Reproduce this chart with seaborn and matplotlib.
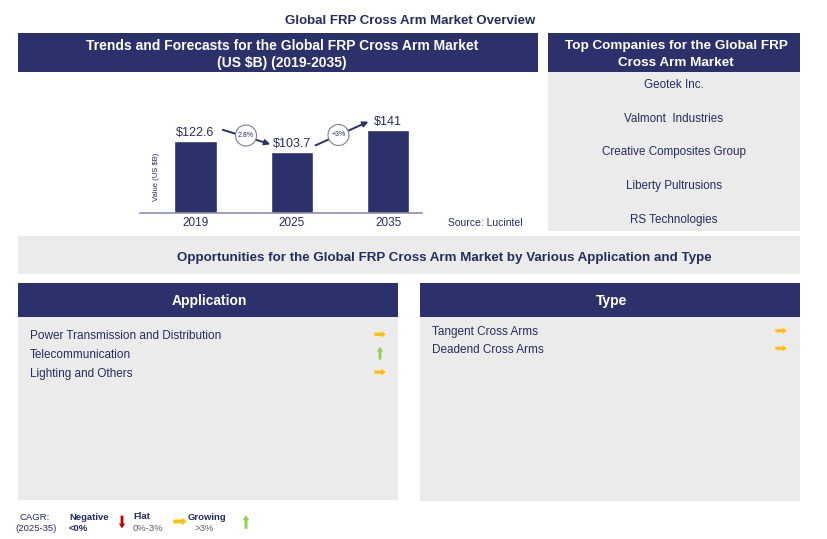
import matplotlib
matplotlib.use("Agg")
import matplotlib.pyplot as plt
import seaborn as sns
import pandas as pd
from matplotlib.patches import Rectangle, Circle, FancyArrow

# data
years = ["2019", "2025", "2035"]
values = [122.6, 103.7, 141]
value_labels = ["$122.6", "$103.7", "$141"]
cagr_labels = ["2.8%", "+3%"]
companies = ["Geotek Inc.", "Valmont  Industries", "Creative Composites Group",
             "Liberty Pultrusions", "RS Technologies"]
applications = ["Power Transmission and Distribution", "Telecommunication", "Lighting and Others"]
application_trend = ["flat", "growing", "flat"]
types = ["Tangent Cross Arms", "Deadend Cross Arms"]
type_trend = ["flat", "flat"]

NAVY = "#2D316B"
TXT = "#262C60"
GREY = "#EBEBEB"
YELLOW = "#FFC000"
GREEN = "#92D050"
RED = "#C00000"

sns.set_style("white")
plt.rcParams['font.family'] = ['Liberation Sans', 'DejaVu Sans']

W, H = 828, 539
DY = 1.5  # small nudge so text centres sit like the reference
fig = plt.figure(figsize=(W / 100, H / 100), dpi=100)

# overlay axes in pixel coordinates
bg = fig.add_axes([0, 0, 1, 1])
bg.set_xlim(0, W)
bg.set_ylim(H, 0)
bg.axis("off")


def box(x0, y0, x1, y1, color):
    bg.add_patch(Rectangle((x0, y0), x1 - x0, y1 - y0, facecolor=color, edgecolor="none", zorder=0))


def label(x, y, s, **kw):
    kw.setdefault("va", "center")
    kw.setdefault("color", TXT)
    return bg.text(x, y + DY, s, **kw)


def arrow(x, y, kind, size=1.0):
    if kind == "flat":
        bg.add_patch(FancyArrow(x - 7 * size, y, 9 * size, 0, width=4 * size, head_width=8 * size,
                                head_length=5 * size, color=YELLOW, lw=0, zorder=3))
    elif kind == "growing":
        bg.add_patch(FancyArrow(x, y + 8 * size, 0, -10 * size, width=3.5 * size, head_width=8 * size,
                                head_length=6 * size, color=GREEN, lw=0, zorder=3))
    else:
        bg.add_patch(FancyArrow(x, y - 8 * size, 0, 10 * size, width=3.5 * size, head_width=8 * size,
                                head_length=6 * size, color=RED, lw=0, zorder=3))


# title
label(410, 19, "Global FRP Cross Arm Market Overview", ha="center", fontsize=9.5, fontweight="bold")

# left header
box(18, 33, 538, 72, NAVY)
label(282, 44, "Trends and Forecasts for the Global FRP Cross Arm Market", ha="center",
      fontsize=10, fontweight="bold", color="white")
label(282, 61.5, "(US $B) (2019-2035)", ha="center", fontsize=10, fontweight="bold", color="white")

# right header + companies
box(548, 33, 800, 72, NAVY)
label(676, 44, "Top Companies for the Global FRP", ha="center",
      fontsize=9.7, fontweight="bold", color="white")
label(676, 61.5, "Cross Arm Market", ha="center", fontsize=9.7, fontweight="bold", color="white")
box(548, 72, 800, 231, GREY)
for i, name in enumerate(companies):
    label(674, 84 + i * 33.5, name, ha="center", fontsize=8.4)

# opportunities banner
box(18, 236, 800, 274, GREY)
label(444, 256.5, "Opportunities for the Global FRP Cross Arm Market by Various Application and Type",
      ha="center", fontsize=9.6, fontweight="bold")

# application panel
box(18, 283, 398, 317, NAVY)
label(209, 300, "Application", ha="center", fontsize=10, fontweight="bold", color="white")
box(18, 317, 398, 500, GREY)
for i, (name, tr) in enumerate(zip(applications, application_trend)):
    y = 334.3 + i * 18.9
    label(30, y, name, ha="left", fontsize=8.5)
    arrow(380, y, tr, 0.8)

# type panel
box(420, 283, 800, 317, NAVY)
label(612, 300, "Type", ha="center", fontsize=10, fontweight="bold", color="white")
box(420, 317, 800, 501, GREY)
for i, (name, tr) in enumerate(zip(types, type_trend)):
    y = 330.7 + i * 17.6
    label(432, y, name, ha="left", fontsize=8.5)
    arrow(781, y, tr, 0.8)

# legend at bottom
label(35, 515.5, "CAGR:", ha="center", fontsize=6.8)
label(36, 527, "(2025-35)", ha="center", fontsize=6.8)
label(69, 516, "Negative", ha="left", fontsize=6.8, fontweight="bold")
label(69, 527, "<0%", ha="left", fontsize=6.8, fontweight="bold")
arrow(122, 522, "negative", 0.8)
label(133, 515, "Flat", ha="left", fontsize=6.8, fontweight="bold")
label(133, 527, "0%-3%", ha="left", fontsize=6.8, color="#5A5A6A")
arrow(180, 521.5, "flat", 0.95)
label(188, 516, "Growing", ha="left", fontsize=6.8, fontweight="bold")
label(195, 527, ">3%", ha="left", fontsize=6.8, color="#5A5A6A")
arrow(246, 522, "growing", 0.85)

# bar chart
ax = fig.add_axes([140 / W, 1 - 212.7 / H, 282 / W, 112.7 / H])
ax.patch.set_alpha(0)
df = pd.DataFrame({"year": years, "value": values})
sns.barplot(data=df, x="year", y="value", color=NAVY, saturation=1, width=0.44, ax=ax)
ax.set_xlim(-0.575, 2.35)
ax.set_ylim(0, 192)
for i, (v, lab) in enumerate(zip(values, value_labels)):
    ax.text(i, v + 3.5, lab, ha="center", va="bottom", fontsize=9, color=TXT)
ax.set_yticks([])
ax.set_xlabel("")
ax.set_ylabel("Value (US $B)", fontsize=5.5, color=TXT)
ax.yaxis.set_label_coords(0.07, 0.317)
ax.tick_params(axis="x", length=0, labelsize=8.5, colors=TXT, pad=3)
for s in ["top", "right", "left"]:
    ax.spines[s].set_visible(False)
ax.spines["bottom"].set_color("#8A8FAF")
ax.spines["bottom"].set_linewidth(1.2)

label(448, 221, "Source: Lucintel", ha="left", fontsize=7.5)

# growth arrows with CAGR circles
bg.annotate("", xy=(273, 145), xytext=(220, 129),
            arrowprops=dict(arrowstyle="-|>", color=NAVY, lw=1.4, mutation_scale=8), zorder=2)
bg.annotate("", xy=(371, 120.5), xytext=(313, 146.5),
            arrowprops=dict(arrowstyle="-|>", color=NAVY, lw=1.4, mutation_scale=8), zorder=2)
for (cx, cy), lab in zip([(246, 135.5), (338.5, 135)], cagr_labels):
    bg.add_patch(Circle((cx, cy), 10.5, facecolor="white", edgecolor="#7A7E9E", lw=0.8, zorder=4))
    bg.text(cx, cy, lab, ha="center", va="center", fontsize=5, color=TXT, zorder=5)

fig.savefig("out.png", dpi=100)
